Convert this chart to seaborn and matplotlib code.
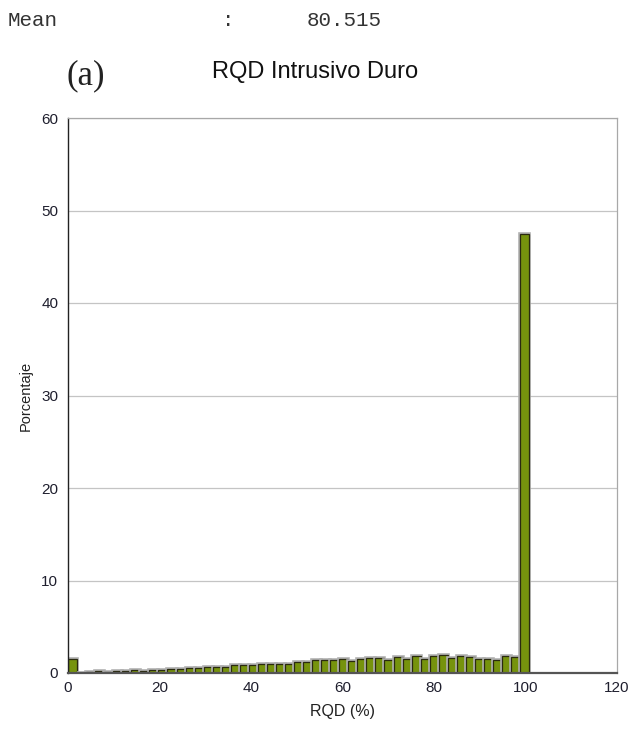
import numpy as np
import pandas as pd
import matplotlib
matplotlib.use("Agg")
import matplotlib.pyplot as plt
import matplotlib.patheffects as pe
import seaborn as sns

# ---- data ----
bin_edges = list(np.linspace(0, 100.8, 52))
percent = [1.55, 0.05, 0.10, 0.20, 0.10, 0.20, 0.25, 0.30, 0.25, 0.30,
           0.35, 0.38, 0.40, 0.50, 0.50, 0.60, 0.60, 0.68, 0.86, 0.86,
           0.86, 0.97, 0.97, 1.00, 1.00, 1.20, 1.15, 1.37, 1.37, 1.44,
           1.55, 1.30, 1.48, 1.58, 1.66, 1.44, 1.75, 1.55, 1.87, 1.55,
           1.87, 1.90, 1.58, 1.87, 1.70, 1.55, 1.55, 1.44, 1.87, 1.73,
           47.5]
xticks = [0, 20, 40, 60, 80, 100, 120]
yticks = [0, 10, 20, 30, 40, 50, 60]
title = "RQD Intrusivo Duro"
mean_label, mean_value = "Mean", "80.515"

edges = np.array(bin_edges)
centers = (edges[:-1] + edges[1:]) / 2
df = pd.DataFrame({"rqd": centers, "pct": percent})

sns.set_theme(style="white")
plt.rcParams["font.family"] = ["Liberation Sans", "DejaVu Sans"]

fig = plt.figure(figsize=(6.37, 7.30), dpi=100)
ax = fig.add_axes([68/637, 1-673/730, (617-68)/637, (673-118)/730])

sns.histplot(data=df, x="rqd", weights="pct", bins=bin_edges, ax=ax,
             color="#76930d", alpha=1.0, edgecolor="#2a2a10", linewidth=0.9)
for p in ax.patches:
    p.set_path_effects([pe.Stroke(linewidth=2.6, foreground="#b0b0b0"),
                        pe.Normal()])

ax.set_xlim(0, 120)
ax.set_ylim(0, 60)
ax.set_xticks(xticks)
ax.set_yticks(yticks)
ax.yaxis.grid(True, color="#c4c4c4", linewidth=0.9)
ax.xaxis.grid(False)
ax.set_axisbelow(True)
ax.tick_params(axis="both", labelsize=11, colors="#1f1f2e", length=5, width=0.9, pad=2)
ax.tick_params(axis="y", color="#999999")
ax.tick_params(axis="x", color="#333333", length=4)
ax.set_xlabel("RQD (%)", fontsize=11.5, color="#222222", labelpad=6)
ax.set_ylabel("Porcentaje", fontsize=10.5, color="#222222", labelpad=6)
for s in ["top", "right"]:
    ax.spines[s].set_color("#a8a8a8")
    ax.spines[s].set_linewidth(0.9)
ax.spines["left"].set_color("#222222")
ax.spines["left"].set_linewidth(1.0)
ax.spines["bottom"].set_color("#555555")
ax.spines["bottom"].set_linewidth(1.6)

fig.text(315/637, 1-72/730, title, ha="center", va="center", fontsize=17, color="#111111")
fig.text(67/637, 1-76/730, "(a)", ha="left", va="center", fontsize=25,
         family=["Liberation Serif", "DejaVu Serif"], color="#222222")
fig.text(8/637, 1-20/730, mean_label, ha="left", va="center", fontsize=15,
         family=["Liberation Mono", "DejaVu Sans Mono"], color="#333333")
fig.text(222/637, 1-20/730, ":", ha="left", va="center", fontsize=15,
         family=["Liberation Mono", "DejaVu Sans Mono"], color="#333333")
fig.text(307/637, 1-20/730, mean_value, ha="left", va="center", fontsize=15,
         family=["Liberation Mono", "DejaVu Sans Mono"], color="#333333")

fig.savefig("out.png", dpi=100, facecolor="white")
